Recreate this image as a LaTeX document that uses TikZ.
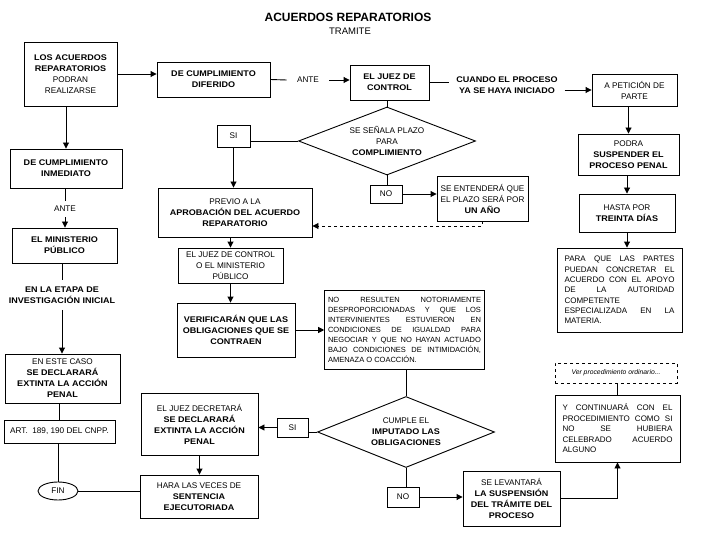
\documentclass[tikz,border=0pt]{standalone}
\usepackage{fontspec}
\setmainfont{Liberation Sans}
\newfontfamily\wide{Liberation Sans}[FakeStretch=1.1]
\newcommand{\negrita}[1]{{\wide\bfseries #1}}
\usetikzlibrary{arrows.meta,shapes.geometric}

\begin{document}
\begin{tikzpicture}[x=1pt, y=-1pt, line width=0.9pt,
  font=\fontsize{8.2}{11}\selectfont,
  caja/.style={draw, align=center, inner sep=2pt},
  rombo/.style={draw, diamond, aspect=2.6, align=center, inner sep=0pt},
  nota/.style={align=center, inner ysep=5pt},
  just/.style={draw, align=justify, execute at begin node={\tolerance=10000\relax}},
  flecha/.style={-{Triangle[length=6pt, width=6pt]}}]
  \useasboundingbox (0,0) rectangle (720,540);
  % titulo
  \node (titulo) at (348,17) {\fontsize{12}{14}\selectfont\bfseries ACUERDOS REPARATORIOS};
  \node (tramite) at (350,31) {\fontsize{9.5}{11}\selectfont TRAMITE};
  % columna izquierda
  \node[caja, minimum width=93, minimum height=64] (acuerdos) at (70.5,74)
    {\negrita{LOS ACUERDOS}\\\negrita{REPARATORIOS}\\PODRAN\\REALIZARSE};
  \node[caja, minimum width=112, minimum height=39] (inmediato) at (66,168.5)
    {\negrita{DE CUMPLIMIENTO}\\\negrita{INMEDIATO}};
  \node[nota] (ante2) at (65,209) {ANTE};
  \node[caja, minimum width=105, minimum height=35] (mp) at (64.5,245.5)
    {\negrita{EL MINISTERIO}\\\negrita{PÚBLICO}};
  \node[nota, inner ysep=6pt] (etapa) at (62,295)
    {\negrita{EN LA ETAPA DE}\\\negrita{INVESTIGACIÓN INICIAL}};
  \node[caja, minimum width=115, minimum height=49] (caso) at (62.5,378.5)
    {EN ESTE CASO\\\negrita{SE DECLARARÁ}\\\negrita{EXTINTA LA ACCIÓN}\\\negrita{PENAL}};
  \node[caja, minimum width=111, minimum height=23] (art) at (59.5,431.5) {ART.~~189, 190 DEL CNPP.};
  \node[draw, ellipse, minimum width=40, minimum height=18, inner sep=0pt] (fin) at (58,491) {FIN};
  % columna central
  \node[caja, minimum width=113, minimum height=35] (diferido) at (213.5,79.5)
    {\negrita{DE CUMPLIMIENTO}\\\negrita{DIFERIDO}};
  \node[nota, inner xsep=10pt] (ante1) at (308,80) {ANTE};
  \node[caja, minimum width=79, minimum height=35] (juezctrl) at (389.5,82.5)
    {\negrita{EL JUEZ DE}\\\negrita{CONTROL}};
  \node[nota, inner xsep=6.5pt] (cuando) at (507,85)
    {\negrita{CUANDO EL PROCESO}\\\negrita{YA SE HAYA INICIADO}};
  \node[rombo, minimum width=177, minimum height=68] (plazo) at (387,141)
    {SE SEÑALA PLAZO\\PARA\\\negrita{COMPLIMIENTO}};
  \node[caja, minimum width=33, minimum height=22] (si1) at (233.5,136) {SI};
  \node[caja, minimum width=32, minimum height=18] (no1) at (386,194) {NO};
  \node[caja, minimum width=91, minimum height=45] (entendera) at (482.5,198.5)
    {SE ENTENDERÁ QUE\\EL PLAZO SERÁ POR\\\negrita{UN AÑO}};
  \node[caja, minimum width=154, minimum height=49] (previo) at (235,212.5)
    {PREVIO A LA\\\negrita{APROBACIÓN DEL ACUERDO}\\\negrita{REPARATORIO}};
  \node[caja, minimum width=105, minimum height=35] (juezmp) at (230.5,265.5)
    {EL JUEZ DE CONTROL\\O EL MINISTERIO\\PÚBLICO};
  \node[caja, minimum width=118, minimum height=54] (verif) at (236,330)
    {\negrita{VERIFICARÁN QUE LAS}\\\negrita{OBLIGACIONES QUE SE}\\\negrita{CONTRAEN}};
  \node[just, font=\fontsize{7.5}{10}\selectfont, text width=153pt, minimum height=79] (condic) at (404.5,329.5)
    {NO RESULTEN NOTORIAMENTE\linebreak DESPROPORCIONADAS Y QUE LOS\linebreak
     INTERVINIENTES ESTUVIERON EN\linebreak CONDICIONES DE IGUALDAD PARA\linebreak
     NEGOCIAR Y QUE NO HAYAN ACTUADO\linebreak BAJO CONDICIONES DE INTIMIDACIÓN,\linebreak
     AMENAZA O COACCIÓN.};
  \node[rombo, minimum width=177, minimum height=71] (cumple) at (406,432)
    {CUMPLE EL\\\negrita{IMPUTADO LAS}\\\negrita{OBLIGACIONES}};
  \node[caja, minimum width=31, minimum height=19] (si2) at (292.5,427.5) {SI};
  \node[caja, minimum width=117, minimum height=62] (decreta) at (199.5,424)
    {EL JUEZ DECRETARÁ\\\negrita{SE DECLARARÁ}\\\negrita{EXTINTA LA ACCIÓN}\\\negrita{PENAL}};
  \node[caja, minimum width=118, minimum height=43] (sentencia) at (199,496.5)
    {HARA LAS VECES DE\\\negrita{SENTENCIA}\\\negrita{EJECUTORIADA}};
  \node[caja, minimum width=32, minimum height=20] (no2) at (403,497) {NO};
  \node[caja, minimum width=97, minimum height=55] (levanta) at (511.5,498.5)
    {SE LEVANTARÁ\\\negrita{LA SUSPENSIÓN}\\\negrita{DEL TRÁMITE DEL}\\\negrita{PROCESO}};
  % columna derecha
  \node[caja, minimum width=85, minimum height=32] (peticion) at (634.5,90) {A PETICIÓN DE\\PARTE};
  \node[caja, minimum width=101, minimum height=41] (suspender) at (628.5,154.5)
    {PODRA\\\negrita{SUSPENDER EL}\\\negrita{PROCESO PENAL}};
  \node[caja, minimum width=96, minimum height=38] (dias) at (627,213)
    {HASTA POR\\\negrita{TREINTA DÍAS}};
  \node[just, font=\fontsize{8}{10.3}\selectfont, text width=110pt, minimum width=125, minimum height=84] (partes) at (619.5,290)
    {PARA QUE LAS PARTES\linebreak PUEDAN CONCRETAR EL\linebreak ACUERDO CON EL APOYO\linebreak
     DE LA AUTORIDAD\linebreak COMPETENTE\linebreak ESPECIALIZADA EN LA\linebreak MATERIA.};
  \node[draw, dashed, minimum width=122, minimum height=20] (ver) at (616,373)
    {\fontsize{6.8}{8}\selectfont\itshape Ver procedimiento ordinario...};
  \node[just, font=\fontsize{8}{10.5}\selectfont, text width=110pt, minimum width=125, minimum height=67] (continua) at (617.5,428.5)
    {Y CONTINUARÁ CON EL\linebreak PROCEDIMIENTO COMO SI\linebreak NO SE HUBIERA\linebreak
     CELEBRADO ACUERDO\linebreak ALGUNO};
  % conectores
  \draw[flecha] (acuerdos.east) -- (acuerdos.east -| diferido.west);
  \draw (diferido.east) -- (ante1.west);
  \draw[flecha] (ante1.east) -- (ante1.east -| juezctrl.west);
  \draw (juezctrl.east) -- (juezctrl.east -| cuando.west);
  \draw[flecha] (cuando.east |- peticion.west) -- (peticion.west);
  \draw[flecha] (peticion.south -| suspender.north) -- (suspender.north);
  \draw[flecha] (suspender.south -| dias.north) -- (dias.north);
  \draw[flecha] (dias.south) -- (dias.south |- partes.north);
  \draw (ver.south -| continua.north) -- (continua.north);
  \draw (juezctrl.south -| plazo.north) -- (plazo.north);
  \draw (plazo.west) -- (plazo.west -| si1.east);
  \draw[flecha] (si1.south) -- (si1.south |- previo.north);
  \draw (plazo.south) -- (plazo.south |- no1.north);
  \draw[flecha] (no1.east) -- (no1.east -| entendera.west);
  \draw[flecha, dashed] (entendera.south) |- ([yshift=-13.5pt]previo.east);
  \draw[flecha] (previo.south -| juezmp.north) -- (juezmp.north);
  \draw[flecha] (juezmp.south) -- (juezmp.south |- verif.north);
  \draw[flecha] (verif.east) -- (verif.east -| condic.west);
  \draw (cumple.north |- condic.south) -- (cumple.north);
  \draw (cumple.west) -- (cumple.west -| si2.east);
  \draw[flecha] (si2.west) -- (si2.west -| decreta.east);
  \draw[flecha] (decreta.south) -- (decreta.south |- sentencia.north);
  \draw (cumple.south) -- (cumple.south |- no2.north);
  \draw[flecha] (no2.east) -- (no2.east -| levanta.west);
  \draw[flecha] (levanta.east) -| (continua.south);
  \draw[flecha] (acuerdos.south -| inmediato.north) -- (inmediato.north);
  \draw (inmediato.south -| ante2.north) -- (ante2.north);
  \draw[flecha] (ante2.south) -- (ante2.south |- mp.north);
  \draw (mp.south -| etapa.north) -- (etapa.north);
  \draw[flecha] (etapa.south) -- (etapa.south |- caso.north);
  \draw (caso.south -| art.north) -- (art.north);
  \draw (art.south -| fin.north) -- (fin.north);
  \draw (fin.east) -- (fin.east -| sentencia.west);
\end{tikzpicture}
\end{document}
